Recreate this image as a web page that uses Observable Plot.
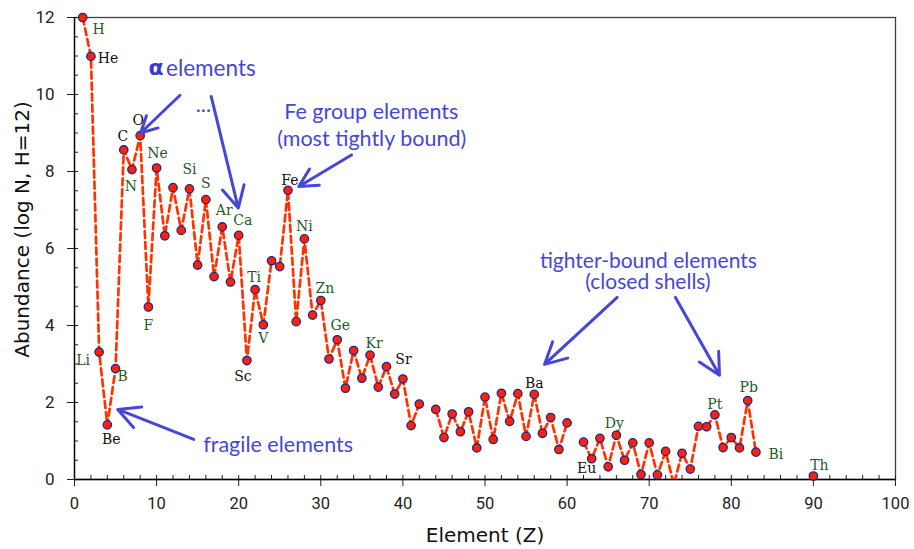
<!DOCTYPE html>
<html><head><meta charset="utf-8">
<script src="https://cdn.jsdelivr.net/npm/d3@7"></script>
<script src="https://cdn.jsdelivr.net/npm/@observablehq/plot@0.6"></script>
<style>body{margin:0;background:#fff;}</style>
</head><body><div id="chart"></div>
<script>
// Element atomic numbers (gaps at Tc 43, Pm 61, 84-89)
const elementZ = [1,2,3,4,5,6,7,8,9,10,11,12,13,14,15,16,17,18,19,20,
  21,22,23,24,25,26,27,28,29,30,31,32,33,34,35,36,37,38,39,40,41,42,
  44,45,46,47,48,49,50,51,52,53,54,55,56,57,58,59,60,
  62,63,64,65,66,67,68,69,70,71,72,73,74,75,76,77,78,79,80,81,82,83,90];
// Abundance (log N, H = 12)
const abundance = [12.00,10.99,3.31,1.42,2.88,8.56,8.05,8.93,4.48,8.09,6.33,7.58,6.47,7.55,5.57,7.27,5.27,6.56,5.13,6.34,
  3.09,4.93,4.02,5.68,5.53,7.51,4.10,6.25,4.27,4.65,3.13,3.63,2.37,3.35,2.63,3.23,2.40,2.93,2.22,2.61,1.40,1.96,
  1.82,1.09,1.70,1.24,1.76,0.82,2.14,1.04,2.24,1.51,2.23,1.12,2.21,1.20,1.61,0.78,1.47,
  0.97,0.54,1.07,0.33,1.15,0.50,0.95,0.13,0.95,0.12,0.73,-0.13,0.68,0.27,1.38,1.37,1.68,0.83,1.09,0.82,2.05,0.71,0.09];
// Labelled elements
const labelSymbols = ["H","He","Li","Be","B","C","N","O","F","Ne","Si","S","Ar","Ca","Sc","Ti","V","Fe","Ni","Zn","Ge","Kr","Sr","Ba","Eu","Dy","Pt","Pb","Bi","Th"];
const labelZ = [1,2,3,4,5,6,7,8,9,10,14,16,18,20,21,22,23,26,28,30,32,36,38,56,63,66,78,82,83,90];
// Axis ticks
const xTicks = [0,10,20,30,40,50,60,70,80,90,100];
const yTicks = [0,2,4,6,8,10,12];
const xTitle = "Element (Z)";
const yTitle = "Abundance (log N, H=12)";
// Annotations
const annoTexts = ["Fe group elements","(most tightly bound)","tighter-bound elements","(closed shells)","fragile elements","...","elements"];
const annoX = [36.15, 36.2, 69.9, 69.85, 24.8, 15.7, 11.15];
const annoY = [9.53, 8.84, 5.67, 5.12, 0.89, 9.72, 10.67];
const arrowX1 = [12.85, 16.65, 33.74, 66.1, 73.2, 14.53];
const arrowY1 = [9.98, 9.95, 8.43, 4.73, 4.73, 1.04];
const arrowX2 = [8.05, 19.95, 27.32, 57.25, 78.56, 5.27];
const arrowY2 = [9.0, 7.05, 7.61, 2.99, 2.71, 1.82];

// ---- build tables ----
const data = elementZ.map((z, i) => ({z, v: abundance[i]}));
let seg = 0;
data.forEach((d, i) => { if (i > 0 && d.z - data[i-1].z > 1) seg++; d.seg = seg; });
const byZ = new Map(data.map(d => [d.z, d.v]));
const labels = labelSymbols.map((s, i) => ({s, z: labelZ[i], v: byZ.get(labelZ[i])}));
const annos = annoTexts.map((t, i) => ({t, x: annoX[i], y: annoY[i]}));
const arrows = arrowX1.map((x1, i) => ({x1, y1: arrowY1[i], x2: arrowX2[i], y2: arrowY2[i]}));

// label placement (px offsets) and colours
const place = {H:[16,12],He:[17,2],Li:[-16,8],Be:[4,15],B:[7,8],C:[-1,-13],N:[-1,17],O:[-2,-15],F:[0,18],
  Ne:[1,-15],Si:[0,-19],S:[0,-16],Ar:[2,-16],Ca:[4,-15],Sc:[-4,16],Ti:[-1,-12],V:[0,14],Fe:[2,-10],Ni:[0,-12],
  Zn:[4,-12],Ge:[3,-14],Kr:[4,-12],Sr:[17,-7],Ba:[0,-11],Eu:[-5,10],Dy:[-2,-12],Pt:[0,-10],Pb:[1,-13],Bi:[20,2],Th:[6,-11]};
const blackSet = new Set(["He","C","O","Be","Sc","Fe","Sr","Ba","Eu"]);
const green = "#1f5a1f", blue = "#4646d8";

const labelMarks = labels.map(d => Plot.text([d], {
  x: "z", y: "v", text: "s", dx: place[d.s][0], dy: place[d.s][1],
  fill: blackSet.has(d.s) ? "#111" : green, fontFamily: "DejaVu Serif", fontSize: 14
}));

const annoMarks = annos.map(d => Plot.text([d], {
  x: "x", y: "y", text: "t", fill: blue, fontFamily: "Lato",
  fontSize: d.t === "elements" ? 22.5 : (d.t.startsWith("tighter") || d.t.startsWith("(closed")) ? 21 : 21.5,
  textAnchor: d.t === "elements" ? "start" : "middle"
}));

const chart = Plot.plot({
  width: 914, height: 549,
  marginLeft: 74, marginRight: 19, marginTop: 17, marginBottom: 70,
  style: {fontFamily: "Roboto", fontSize: "16px", background: "#fff", color: "#222"},
  x: {domain: [0, 100]},
  y: {domain: [0, 12]},
  marks: [
    Plot.frame({stroke: "#404040", strokeWidth: 1.3}),
    Plot.axisX(xTicks, {tickSize: 7, tickPadding: 11, fontSize: 16.5, label: null}),
    Plot.axisX(d3.range(0, 101, 2), {tickSize: 4, dy: -4, tickFormat: () => "", label: null}),
    Plot.axisY(yTicks, {tickSize: 7, tickPadding: 13, fontSize: 17, label: null}),
    Plot.axisY(d3.range(0, 12.01, 0.5), {tickSize: 4, dx: 4, tickFormat: () => "", label: null}),
    Plot.ruleX([0], {stroke: "#000", strokeWidth: 1.3}),
    Plot.ruleY([0], {stroke: "#000", strokeWidth: 1.3}),
    Plot.text([xTitle], {frameAnchor: "bottom", dy: 56, textAnchor: "middle", lineAnchor: "middle", fontFamily: "DejaVu Sans", fontSize: 20, fill: "#111"}),
    Plot.text([yTitle], {frameAnchor: "left", dx: -52, dy: -19, rotate: -90, textAnchor: "middle", lineAnchor: "middle", fontFamily: "DejaVu Sans", fontSize: 20, fill: "#111"}),
    Plot.line(data, {x: "z", y: "v", z: "seg", stroke: "#ff3300", strokeWidth: 2.7, strokeDasharray: "7,4", clip: true}),
    Plot.dot(data.filter(d => d.v >= 0), {x: "z", y: "v", r: 4.2, fill: "#ff2200", stroke: "#23238f", strokeWidth: 1.3}),
    ...labelMarks,
    Plot.arrow(arrows, {x1: "x1", y1: "y1", x2: "x2", y2: "y2", stroke: blue, strokeWidth: 3, headLength: 12, headAngle: 55}),
    Plot.text(["α"], {x: 10.85, y: 10.7, textAnchor: "end", fill: "#3a3ad0", fontFamily: "DejaVu Sans", fontWeight: "bold", fontSize: 22}),
    ...annoMarks
  ]
});
document.getElementById("chart").append(chart);
</script>
</body></html>
